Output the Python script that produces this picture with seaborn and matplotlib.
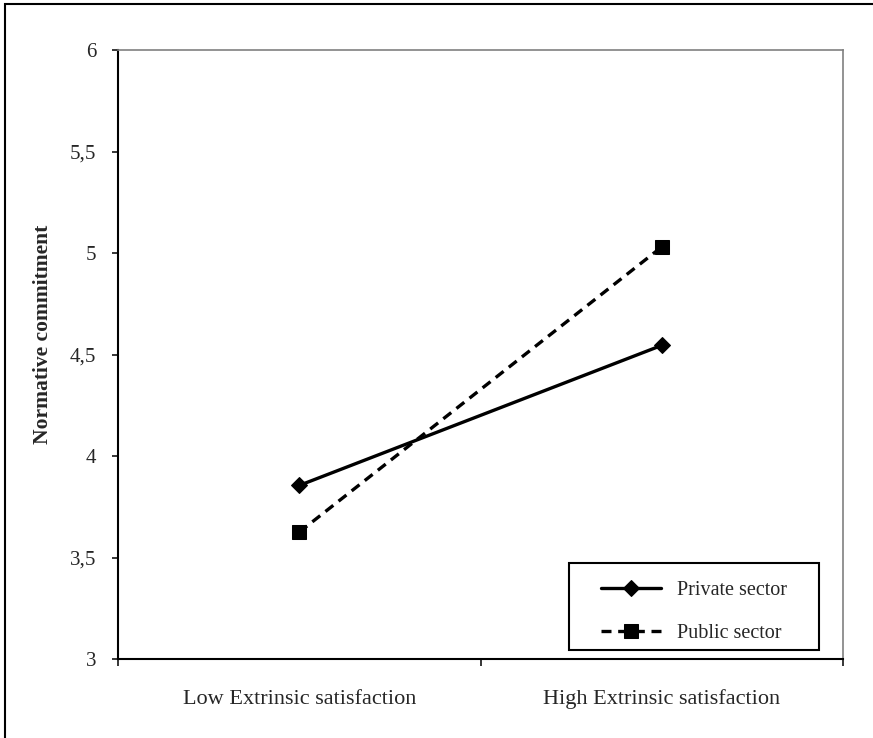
import pandas as pd
import seaborn as sns
import matplotlib.pyplot as plt
from matplotlib.patches import Rectangle

# Data
conditions = ["Low Extrinsic satisfaction", "High Extrinsic satisfaction"]
private_sector = [3.855, 4.545]
public_sector = [3.625, 5.03]
y_ticks = [3, 3.5, 4, 4.5, 5, 5.5, 6]
y_tick_labels = ["3", "3,5", "4", "4,5", "5", "5,5", "6"]

df = pd.DataFrame({
    "condition": conditions * 2,
    "x": [0, 1] * 2,
    "value": private_sector + public_sector,
    "sector": ["Private sector"] * 2 + ["Public sector"] * 2,
})

sns.set_style("white")
plt.rcParams["font.family"] = ["Liberation Serif", "DejaVu Serif"]

fig = plt.figure(figsize=(8.73, 7.38), dpi=100)
ax = fig.add_axes([118 / 873, 1 - 659 / 738, (843 - 118) / 873, (659 - 50) / 738])

sns.lineplot(data=df, x="x", y="value", hue="sector", style="sector",
             palette={"Private sector": "black", "Public sector": "black"},
             markers={"Private sector": "D", "Public sector": "s"},
             dashes={"Private sector": "", "Public sector": (3, 2)},
             markersize=10, linewidth=2.4, markeredgecolor="black", ax=ax)

# diamond a bit smaller than the square
for line in ax.get_lines():
    if line.get_marker() == "D":
        line.set_markersize(8)

ax.set_xlim(-0.5, 1.5)
ax.set_ylim(3, 6)
ax.set_yticks(y_ticks)
ax.set_yticklabels(y_tick_labels, fontsize=15)
ax.set_xticks([-0.5, 0.5, 1.5])
ax.set_xticklabels([])
ax.set_xticks([0, 1], minor=True)
ax.set_xticklabels(conditions, minor=True, fontsize=16)
ax.tick_params(axis="x", which="minor", length=0, pad=22)
ax.tick_params(axis="x", which="major", direction="out", length=5, width=1.3, bottom=True)
ax.tick_params(axis="y", direction="out", length=4.5, width=1.3, left=True, pad=11)
ax.set_xlabel("")
ax.set_ylabel("Normative commitment", fontsize=15.5, fontweight="bold", labelpad=12)
ax.yaxis.label.set_y(0.533)

for side in ["left", "bottom"]:
    ax.spines[side].set_color("black")
    ax.spines[side].set_linewidth(1.5)
for side in ["top", "right"]:
    ax.spines[side].set_color("#808080")
    ax.spines[side].set_linewidth(1.2)

leg = ax.legend(loc="lower left", bbox_to_anchor=(0.652, 0.01), fontsize=14.5,
                handlelength=3.0, handletextpad=0.8, labelspacing=1.2,
                borderpad=0, frameon=False)

# legend frame
ax.add_patch(Rectangle((0.622, 0.0148), 0.967 - 0.622, 0.1576 - 0.0148,
                       transform=ax.transAxes, fill=False, edgecolor="black",
                       linewidth=1.5, zorder=5))

# outer chart border
fig.patches.append(Rectangle((5 / 873, -0.01), 1.02, 1 - 4 / 738 + 0.01,
                             transform=fig.transFigure, fill=False,
                             edgecolor="black", linewidth=1.5))

fig.savefig("out.png", dpi=100)
